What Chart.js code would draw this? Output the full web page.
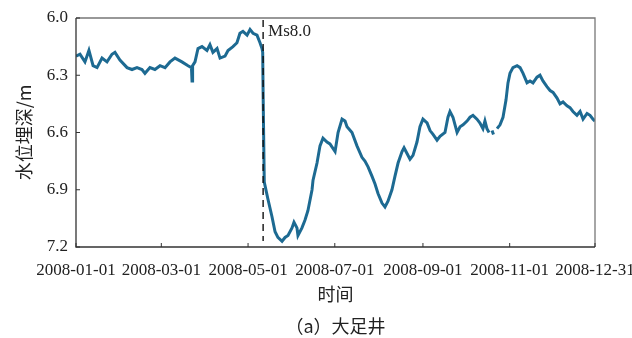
<!DOCTYPE html>
<html>
<head>
<meta charset="utf-8">
<script src="https://cdn.jsdelivr.net/npm/chart.js@4.4.1/dist/chart.umd.min.js"></script>
<style>
  html, body { margin: 0; padding: 0; background: #fff; }
  canvas { display: block; }
</style>
</head>
<body>
<canvas id="myChart" width="632" height="338"></canvas>
<script>
// day of year 2008 (0 = 2008-01-01)
const days = [
  0, 2.8, 6.3, 9.1, 12, 14.8, 18.3, 21.8, 25.3, 27.4, 30.9, 35.9, 39.4, 42.9, 46.4, 48.5, 52, 55.5, 59.1, 62.6,
  66.1, 69.6, 74.5, 78.8, 81.2, 81.6, 82.0, 83.7, 85.8, 88.6, 92.1, 94.2, 96.3, 99.2, 101.3, 104.8, 106.9, 110.4,
  113.2, 115.3, 117.4, 120.3, 122.4, 124.5, 127.3, 129.4, 130.8, 131.3, 131.6, 132.4,
  132.9, 135, 137.8, 140, 142, 144.9, 147, 149.1, 151.9, 153.3, 155.4, 156.1, 158.9, 161, 163.1, 166, 166.7,
  169.5, 171.6, 173.7, 176.5, 178.6, 182.2, 184.3, 187.1, 189.2, 190.6, 194.1, 197.6, 201.1, 203.2, 205.4,
  208.2, 210.3, 212.4, 215.2, 217.3, 219.4, 222.2, 224.3, 226.5, 229.3, 230.7, 232.8, 234.9, 237, 239.8,
  241.9, 244, 246.9, 249, 251.1, 253.9, 256, 259.5, 261.6, 263, 265.1, 268, 270.1, 272.2, 275, 277.1, 279.2,
  282, 284.1, 286.2, 287.6, 289, 290.5, 291.5, 292.6, 293.6, 294.5, 296.1, 298.2, 300.3, 302.4, 303.8, 305.2,
  307.3, 310.2, 312.3, 314.4, 317.2, 319.3, 321.4, 324.2, 326.3, 328.4, 331.2, 333.4, 335.5, 338.3, 340.4,
  342.5, 345.3, 347.4, 349.5, 352.3, 354.5, 356.6, 359.4, 361.5, 363.6, 365
];
// water level depth (m)
const depth = [
  6.20, 6.19, 6.23, 6.17, 6.25, 6.26, 6.21, 6.23, 6.19, 6.18, 6.22, 6.26, 6.27, 6.26, 6.27, 6.29, 6.26, 6.27, 6.25, 6.26,
  6.23, 6.21, 6.23, 6.25, 6.26, 6.33, 6.25, 6.23, 6.16, 6.15, 6.17, 6.14, 6.18, 6.16, 6.21, 6.20, 6.17, 6.15,
  6.13, 6.08, 6.07, 6.09, 6.06, 6.08, 6.09, 6.13, 6.16, 6.18, 6.40, 6.86,
  6.86, 6.95, 7.04, 7.12, 7.15, 7.17, 7.15, 7.14, 7.10, 7.07, 7.10, 7.14, 7.10, 7.06, 7.01, 6.90, 6.85,
  6.76, 6.67, 6.63, 6.65, 6.66, 6.70, 6.60, 6.53, 6.54, 6.57, 6.60, 6.67, 6.73, 6.75, 6.78,
  6.83, 6.87, 6.92, 6.97, 6.99, 6.96, 6.90, 6.83, 6.76, 6.70, 6.68, 6.71, 6.74, 6.72, 6.65,
  6.57, 6.53, 6.55, 6.59, 6.61, 6.64, 6.62, 6.60, 6.52, 6.49, 6.52, 6.60, 6.57, 6.56, 6.54, 6.52, 6.51,
  6.53, 6.55, 6.58, 6.54, 6.58, 6.60, null, 6.59, 6.61, null, 6.58, 6.56, 6.52, 6.43, 6.34, 6.29,
  6.26, 6.25, 6.26, 6.29, 6.34, 6.33, 6.34, 6.31, 6.30, 6.33, 6.36, 6.38, 6.39, 6.42, 6.45,
  6.44, 6.46, 6.47, 6.49, 6.51, 6.49, 6.53, 6.50, 6.51, 6.53, 6.54
];

const tickDays = [0, 60, 121, 182, 244, 305, 365];
const tickLabels = ['2008-01-01', '2008-03-01', '2008-05-01', '2008-07-01', '2008-09-01', '2008-11-01', '2008-12-31'];
const depthTicks = [6.0, 6.3, 6.6, 6.9, 7.2];
const quakeDay = 131.6; // 2008-05-12
const quakeLabel = 'Ms8.0';
const caption = '（a）大足井';

const serif = "'Liberation Serif', 'DejaVu Serif', serif";
const cjk = "'Noto Sans CJK SC', sans-serif";

const decorations = {
  id: 'decorations',
  afterDraw(chart) {
    const { ctx, chartArea: a, scales: { x, y } } = chart;
    ctx.save();

    // frame
    ctx.lineWidth = 1.3;
    ctx.strokeStyle = '#777';
    ctx.beginPath();
    ctx.moveTo(a.left, a.top);
    ctx.lineTo(a.right, a.top);
    ctx.lineTo(a.right, a.bottom);
    ctx.stroke();
    ctx.strokeStyle = '#333';
    ctx.beginPath();
    ctx.moveTo(a.left, a.top);
    ctx.lineTo(a.left, a.bottom);
    ctx.lineTo(a.right, a.bottom);
    ctx.stroke();

    // inside ticks
    ctx.lineWidth = 1;
    tickDays.forEach(d => {
      const px = x.getPixelForValue(d);
      ctx.beginPath();
      ctx.moveTo(px, a.bottom);
      ctx.lineTo(px, a.bottom - 4);
      ctx.stroke();
    });
    depthTicks.forEach(v => {
      const py = y.getPixelForValue(v);
      ctx.beginPath();
      ctx.moveTo(a.left, py);
      ctx.lineTo(a.left + 4, py);
      ctx.stroke();
    });

    // earthquake marker
    const qx = x.getPixelForValue(quakeDay);
    ctx.strokeStyle = '#111';
    ctx.lineWidth = 1.4;
    ctx.setLineDash([7, 5]);
    ctx.beginPath();
    ctx.moveTo(qx, a.top + 2);
    ctx.lineTo(qx, a.bottom - 6);
    ctx.stroke();
    ctx.setLineDash([]);

    ctx.fillStyle = '#222';
    ctx.font = '17px ' + serif;
    ctx.textAlign = 'left';
    ctx.textBaseline = 'middle';
    ctx.fillText(quakeLabel, qx + 5, a.top + 14);

    // caption
    ctx.font = '18px ' + cjk;
    ctx.textAlign = 'center';
    ctx.fillText(caption, (a.left + a.right) / 2, 326);
    ctx.restore();
  }
};

const ctx = document.getElementById('myChart').getContext('2d');
const myChart = new Chart(ctx, {
  type: 'line',
  data: {
    datasets: [{
      data: days.map((d, i) => ({ x: d, y: depth[i] })),
      borderColor: '#1d6a92',
      borderWidth: 3,
      pointRadius: 0,
      tension: 0,
      spanGaps: false
    }]
  },
  options: {
    responsive: false,
    animation: false,
    layout: { padding: { top: 18, right: 37, bottom: 0, left: 0 } },
    plugins: { legend: { display: false }, tooltip: { enabled: false } },
    scales: {
      x: {
        type: 'linear',
        min: 0,
        max: 365,
        afterBuildTicks: s => { s.ticks = tickDays.map(v => ({ value: v })); },
        afterFit: s => { s.height = 91; s.paddingLeft = 0; s.paddingRight = 0; },
        grid: { display: false, drawTicks: false },
        border: { display: false },
        ticks: {
          autoSkip: false,
          maxRotation: 0,
          padding: 13,
          color: '#222',
          font: { family: serif, size: 17 },
          callback: (v, i) => tickLabels[i]
        },
        title: {
          display: true,
          text: '时间',
          color: '#222',
          font: { family: cjk, size: 18 },
          padding: { top: 0, bottom: 33 }
        }
      },
      y: {
        reverse: true,
        min: 6.0,
        max: 7.2,
        afterBuildTicks: s => { s.ticks = depthTicks.map(v => ({ value: v })); },
        afterFit: s => { s.width = 76; s.paddingTop = 0; s.paddingBottom = 0; },
        grid: { display: false, drawTicks: false },
        border: { display: false },
        ticks: {
          padding: 8,
          color: '#222',
          font: { family: serif, size: 17 },
          callback: v => v.toFixed(1)
        },
        title: {
          display: true,
          text: '水位埋深/m',
          color: '#222',
          font: { family: cjk, size: 18 },
          padding: { top: 13, bottom: 0 }
        }
      }
    }
  },
  plugins: [decorations]
});
</script>
</body>
</html>
